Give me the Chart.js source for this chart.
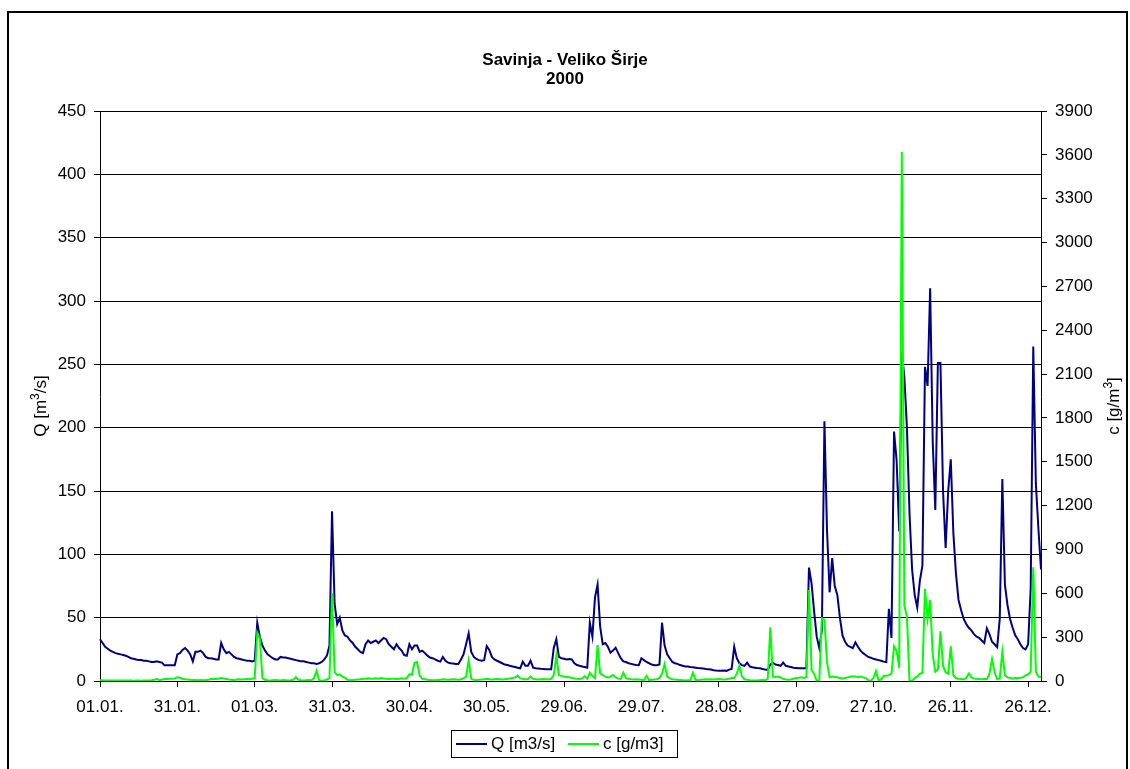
<!DOCTYPE html>
<html><head><meta charset="utf-8">
<script src="https://cdn.jsdelivr.net/npm/chart.js@4.4.0/dist/chart.umd.min.js"></script>
<style>html,body{margin:0;padding:0;background:#fff;}canvas{display:block;}</style>
</head><body>
<canvas id="chart" width="1130" height="769"></canvas>
<script>
// ---------- data ----------
const titleLines = ["Savinja - Veliko Širje", "2000"];
const seriesNames = ["Q [m3/s]", "c [g/m3]"];
const tickLabels = ["01.01.","31.01.","01.03.","31.03.","30.04.","30.05.","29.06.","29.07.","28.08.","27.09.","27.10.","26.11.","26.12."];
const categories = (function(){
  const out = []; const d = new Date(Date.UTC(2000,0,1));
  while (d.getUTCFullYear() === 2000) {
    out.push(String(d.getUTCDate()).padStart(2,'0') + '.' + String(d.getUTCMonth()+1).padStart(2,'0') + '.');
    d.setUTCDate(d.getUTCDate()+1);
  }
  return out;
})();
const qValues = [
 33,30,27,25.5,24,23,22,21.5,21,20.5,
 20,19,18,17.5,17,16.5,16.5,16,16,15.5,
 15,15,15.5,15,14.5,12.5,12.5,12.5,12.5,12.5,
 21,22,24.5,26,24,21,15.5,23,23,24,
 22,19,18,18,17.5,17,17,30,25,22,
 23,21,19,18,17.5,17,16.5,16,16,15.5,
 16,46,35,28,24,21,19.5,18,17,17,
 19,18.5,18.5,18,17.5,17,16.5,16,15.5,15.5,
 15,14.5,14,14,13.5,14,15,17,20,28,
 134,61,45,50,40,36,35,32,30,27,
 25,23,22,29,32,30,31,32,30,32,
 34,33,29,27,25,29,26,24,20.5,20,
 29,25,28,28,23,24,22,20,18.5,18,
 17,16,15.3,19,16,14.5,14,13.8,13.5,13.5,
 17,21,29,37.6,23,19,17.4,16.5,16,16.5,
 27.6,24.5,19,17,16,15,14,13,12.6,12,
 11.5,11,10.5,10,15.3,12,12,16,10.5,10,
 9.8,9.6,9.5,9.3,9.2,9.2,26,33,19,18,
 17.5,17,17.4,17,14,12.6,12,11.5,11,10.5,
 46,35,66,76,43,29,30,27,22.4,24,
 26.3,22,18,15.5,15,14,13.5,13,12.6,12.5,
 17.9,16.5,15,14,13,12.5,12.5,13,46,28,
 21,18,15,14,13.5,12.6,12,11.5,11.5,11,
 10.8,10.5,10.2,10,9.8,9.5,9.3,9,8.5,8.2,
 8.1,8.1,8.2,8,9,9.5,27,18,14,12.5,
 12,14.5,11.5,10.8,10.5,10.2,10,9.5,9,8.7,
 13,14.5,13,12.6,12,14.5,12,11.5,11,10.5,
 10.3,10,10,10,10,89.5,77,55,35,26,
 40,205,119,70,97,75,68,50,36,31,
 28,27,26,30.5,27,24,22,20.5,19,18.4,
 17.5,17,16.5,16,15.3,15,57,34,197,174,
 118,260,240,200,132,88,68,58,79,91,
 248,233,310,189,135,251,251,150,105,150,
 175,117,85,64,56,49,45,42,40,37,
 35,34,32,30,41.6,37,31,29,26.7,49,
 159.5,76,60,49,42,36,33,29,26,25,
 29,73,264,156,120,88
];
const cValues = [
 5,5,4,4,3,3,4,3,3,3,
 4,3,3,2,3,3,2,3,4,3,
 5,8,15,6,8,14,14,15,15,18,
 25,22,16,12,10,8,6,6,5,6,
 5,6,8,14,16,14,16,20,18,14,
 10,8,6,10,12,10,12,14,12,16,
 20,330,290,20,8,5,4,5,6,5,
 4,6,5,4,5,8,27,8,5,4,
 5,6,5,20,70,5,2,3,10,20,
 600,60,40,46,30,23,8,5,6,8,
 10,12,15,15,18,16,15,18,16,20,
 18,16,14,15,16,14,15,18,16,20,
 46,45,125,130,36,15,12,8,6,5,
 5,6,8,12,10,8,10,12,10,8,
 12,18,30,140,15,8,6,8,10,12,
 15,12,10,12,14,12,10,12,15,18,
 20,25,37,18,15,12,14,30,15,12,
 10,12,14,12,10,15,40,173,40,35,
 30,28,25,20,18,15,14,18,34,15,
 57,34,20,246,52,40,30,25,30,41,
 25,18,15,57,20,15,12,10,12,10,
 8,6,35,5,8,10,12,20,50,116,
 30,20,12,10,8,6,5,4,5,6,
 57,8,5,8,10,12,10,12,10,12,
 14,12,10,12,15,20,20,50,105,30,
 12,8,5,4,3,4,5,6,5,15,
 367,30,28,30,25,15,10,8,10,15,
 20,22,25,20,25,623,75,50,0,0,
 429,420,125,25,30,28,25,20,18,20,
 25,30,30,30,28,30,25,20,5,2,
 20,68,5,10,36,36,40,50,237,206,
 90,3620,515,440,0,0,20,30,50,55,
 630,425,555,180,64,80,340,103,60,50,
 237,39,20,15,13,10,20,51,25,18,
 15,13,12,13,13,50,149,60,13,20,
 200,39,25,20,18,20,20,22,25,39,
 45,64,778,64,30,26
];
const qAxis = {min: 0, max: 450, step: 50};
const cAxis = {min: 0, max: 3900, step: 300};

// ---------- styles ----------
const FONT = '"Liberation Sans", Arial, sans-serif';
const FS = 17;
const Q_COLOR = '#000080';
const C_COLOR = '#00FF00';

function drawRich(ctx, parts, cx, cy, rot, size) {
  ctx.save();
  ctx.translate(cx, cy);
  ctx.rotate(rot);
  const supSize = Math.round(size*0.72);
  let total = 0;
  const widths = parts.map(p => {
    ctx.font = (p.sup ? supSize : size) + 'px ' + FONT;
    const w = ctx.measureText(p.t).width; total += w; return w;
  });
  let x = -total/2;
  ctx.textBaseline = 'alphabetic';
  ctx.textAlign = 'left';
  ctx.fillStyle = '#000';
  parts.forEach((p, i) => {
    ctx.font = (p.sup ? supSize : size) + 'px ' + FONT;
    ctx.fillText(p.t, x, p.sup ? size*0.35 - size*0.42 : size*0.35);
    x += widths[i];
  });
  ctx.restore();
}

const decor = {
  id: 'decor',
  afterDraw(chart) {
    const ctx = chart.ctx;
    ctx.save();
    // outer frame
    ctx.strokeStyle = '#000'; ctx.lineWidth = 2;
    ctx.strokeRect(8, 12, 1119, 800);
    // title
    ctx.fillStyle = '#000';
    ctx.font = 'bold ' + FS + 'px ' + FONT;
    ctx.textAlign = 'center'; ctx.textBaseline = 'middle';
    ctx.fillText(titleLines[0], 565, 60);
    ctx.fillText(titleLines[1], 565, 79);
    // axis titles
    drawRich(ctx, [{t:'Q [m'},{t:'3',sup:true},{t:'/s]'}], 40, 406, -Math.PI/2, FS);
    drawRich(ctx, [{t:'c [g/m'},{t:'3',sup:true},{t:']'}], 1113, 406, -Math.PI/2, FS);
    // legend
    ctx.lineWidth = 1; ctx.strokeStyle = '#000';
    ctx.strokeRect(451.5, 730.5, 226, 27);
    ctx.lineWidth = 2;
    ctx.strokeStyle = Q_COLOR;
    ctx.beginPath(); ctx.moveTo(456, 744); ctx.lineTo(487, 744); ctx.stroke();
    ctx.strokeStyle = C_COLOR;
    ctx.beginPath(); ctx.moveTo(568, 744); ctx.lineTo(599, 744); ctx.stroke();
    ctx.fillStyle = '#000';
    ctx.font = FS + 'px ' + FONT;
    ctx.textAlign = 'left'; ctx.textBaseline = 'middle';
    ctx.fillText(seriesNames[0], 491, 744);
    ctx.fillText(seriesNames[1], 603, 744);
    ctx.restore();
  }
};

const plainNum = v => String(v);

new Chart(document.getElementById('chart'), {
  type: 'line',
  data: {
    labels: categories,
    datasets: [
      {label: seriesNames[0], data: qValues, yAxisID: 'y', borderColor: Q_COLOR, backgroundColor: Q_COLOR,
       borderWidth: 2, pointRadius: 0, tension: 0, order: 2},
      {label: seriesNames[1], data: cValues, yAxisID: 'y1', borderColor: C_COLOR, backgroundColor: C_COLOR,
       borderWidth: 2, pointRadius: 0, tension: 0, order: 1}
    ]
  },
  options: {
    responsive: false, animation: false, devicePixelRatio: 1,
    layout: {padding: {top: 111, left: 0, right: 0, bottom: 0}},
    plugins: {legend: {display: false}, title: {display: false}, tooltip: {enabled: false}},
    scales: {
      x: {
        type: 'category', offset: false,
        grid: {display: true, drawOnChartArea: false, drawTicks: true, tickLength: 6, color: '#000', lineWidth: 1},
        border: {display: true, color: '#000', width: 1},
        ticks: {autoSkip: false, maxRotation: 0, minRotation: 0, color: '#000', padding: 10,
          font: {size: FS, family: FONT},
          callback: function(v, i) { const l = categories[i]; return tickLabels.includes(l) ? l : null; }},
        afterFit: s => { s.height = 88; }
      },
      y: {
        position: 'left', min: qAxis.min, max: qAxis.max,
        grid: {color: '#000', lineWidth: 1, tickLength: 6},
        border: {display: true, color: '#000', width: 1},
        ticks: {stepSize: qAxis.step, color: '#000', padding: 8, font: {size: FS, family: FONT}, callback: plainNum},
        afterFit: s => { s.width = 100; }
      },
      y1: {
        position: 'right', min: cAxis.min, max: cAxis.max,
        grid: {drawOnChartArea: false, color: '#000', lineWidth: 1, tickLength: 6},
        border: {display: true, color: '#000', width: 1},
        ticks: {stepSize: cAxis.step, color: '#000', padding: 8, font: {size: FS, family: FONT}, callback: plainNum},
        afterFit: s => { s.width = 89; }
      }
    }
  },
  plugins: [decor]
});
</script>
</body></html>
